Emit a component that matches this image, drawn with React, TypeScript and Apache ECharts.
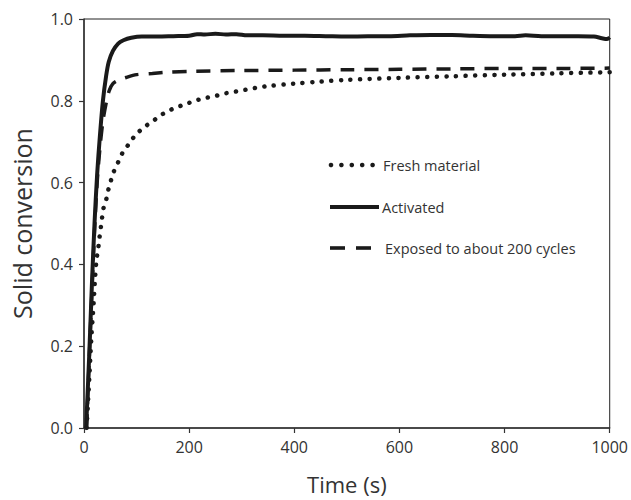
import React, { useEffect, useRef } from "react";
import * as echarts from "echarts";

const xTicks = [0, 200, 400, 600, 800, 1000];
const yTicks = [0, 0.2, 0.4, 0.6, 0.8, 1.0];

const seriesNames = ["Fresh material", "Activated", "Exposed to about 200 cycles"];

const freshTime = [5, 10, 14, 17, 19, 21, 24, 27, 29, 31.5, 34, 37, 42, 46, 51, 57, 65, 73, 84, 94, 105, 117, 131, 143, 157, 172, 187, 200, 216, 231, 248, 264, 282, 299, 316, 333, 350, 400, 450, 500, 600, 700, 800, 900, 1000];
const freshConv = [0, 0.12, 0.22, 0.28, 0.32, 0.366, 0.414, 0.438, 0.461, 0.485, 0.51, 0.537, 0.557, 0.581, 0.604, 0.628, 0.65, 0.672, 0.692, 0.71, 0.725, 0.738, 0.75, 0.762, 0.773, 0.782, 0.789, 0.795, 0.802, 0.807, 0.811, 0.817, 0.821, 0.825, 0.829, 0.833, 0.836, 0.842, 0.847, 0.851, 0.856, 0.86, 0.864, 0.867, 0.87];

const activatedTime = [4, 10, 15, 20, 25, 30, 36, 42, 47, 55, 65, 75, 90, 110, 140, 170, 200, 215, 230, 250, 270, 290, 310, 340, 380, 420, 460, 500, 540, 580, 620, 660, 700, 740, 780, 820, 840, 870, 900, 940, 970, 985, 995, 1000];
const activatedConv = [0, 0.18, 0.35, 0.5, 0.62, 0.71, 0.8, 0.86, 0.895, 0.922, 0.94, 0.948, 0.954, 0.957, 0.957, 0.958, 0.959, 0.963, 0.962, 0.964, 0.962, 0.963, 0.96, 0.96, 0.959, 0.959, 0.958, 0.957, 0.958, 0.958, 0.96, 0.961, 0.961, 0.959, 0.958, 0.958, 0.96, 0.958, 0.958, 0.958, 0.957, 0.953, 0.951, 0.955];

const exposedTime = [5, 10, 15, 20, 25, 30, 36, 43, 48, 55, 65, 80, 100, 130, 160, 200, 300, 400, 500, 600, 700, 800, 900, 1000];
const exposedConv = [0, 0.17, 0.33, 0.48, 0.6, 0.68, 0.75, 0.8, 0.825, 0.842, 0.85, 0.857, 0.864, 0.867, 0.87, 0.872, 0.874, 0.875, 0.876, 0.877, 0.878, 0.879, 0.879, 0.88];

const zip = (t: number[], v: number[]) => t.map((x, i) => [x, v[i]]);

const FONT = "'Open Sans', 'Noto Sans', sans-serif";
const INK = "#1a1a1a";
const TXT = "#333";

const dotted = { width: 4.5, dash: [0.1, 9.5] };
const dashed = { width: 3.5, dash: [14, 10] };

export default function App() {
  const ref = useRef<HTMLDivElement>(null);
  useEffect(() => {
    if (!ref.current) return;
    const chart = echarts.init(ref.current, undefined, { renderer: "svg" });
    const legendText = (text: string, x: number, y: number) => ({
      type: "text",
      x,
      y,
      style: { text, font: `14.5px ${FONT}`, fill: TXT, verticalAlign: "middle", align: "left" },
    });
    const legendDots = [0, 1, 2, 3, 4].map((i) => ({
      type: "circle",
      shape: { cx: 331 + i * 10.4, cy: 165, r: 2.3 },
      style: { fill: INK },
    }));
    chart.setOption({
      animation: false,
      backgroundColor: "#ffffff",
      textStyle: { fontFamily: FONT },
      grid: {
        left: 84,
        right: 19,
        top: 19,
        bottom: 66,
        show: true,
        borderColor: "#222",
        borderWidth: 1,
      },
      graphic: [
        ...legendDots,
        legendText(seriesNames[0], 383, 165),
        {
          type: "line",
          shape: { x1: 330, y1: 207, x2: 379, y2: 207 },
          style: { stroke: INK, lineWidth: 4 },
        },
        legendText(seriesNames[1], 382, 207),
        {
          type: "rect",
          shape: { x: 330, y: 246.2, width: 15, height: 3.6 },
          style: { fill: INK },
        },
        {
          type: "rect",
          shape: { x: 356, y: 246.2, width: 15, height: 3.6 },
          style: { fill: INK },
        },
        legendText(seriesNames[2], 385, 248),
      ],
      xAxis: {
        type: "value",
        min: 0,
        max: 1000,
        interval: 200,
        name: "Time (s)",
        nameLocation: "middle",
        nameGap: 45,
        nameTextStyle: { fontSize: 22, color: TXT, fontFamily: FONT },
        axisLine: { show: true, lineStyle: { color: "#333", width: 1.5 } },
        axisTick: { show: true, inside: false, length: 5, lineStyle: { color: "#333", width: 1.2 } },
        axisLabel: { fontSize: 16, color: TXT, margin: 11, fontFamily: FONT, formatter: (v: number) => String(v) },
        splitLine: { show: false },
      },
      yAxis: {
        type: "value",
        min: 0,
        max: 1,
        interval: 0.2,
        name: "Solid conversion",
        nameLocation: "middle",
        nameGap: 50,
        nameTextStyle: { fontSize: 25, color: TXT, fontFamily: FONT },
        axisLine: { show: true, lineStyle: { color: "#333", width: 1.5 } },
        axisTick: { show: true, inside: false, length: 5, lineStyle: { color: "#333", width: 1.2 } },
        axisLabel: {
          fontSize: 16,
          color: TXT,
          margin: 11,
          fontFamily: FONT,
          formatter: (v: number) => v.toFixed(1),
        },
        splitLine: { show: false },
      },
      series: [
        {
          name: seriesNames[0],
          type: "line",
          data: zip(freshTime, freshConv),
          showSymbol: false,
          symbol: "none",
          smooth: 0.3,
          lineStyle: { color: INK, width: dotted.width, type: dotted.dash, cap: "round" },
        },
        {
          name: seriesNames[1],
          type: "line",
          data: zip(activatedTime, activatedConv),
          showSymbol: false,
          symbol: "none",
          smooth: 0.3,
          lineStyle: { color: INK, width: 4, type: "solid" },
        },
        {
          name: seriesNames[2],
          type: "line",
          data: zip(exposedTime, exposedConv),
          showSymbol: false,
          symbol: "none",
          smooth: 0.3,
          lineStyle: { color: INK, width: dashed.width, type: dashed.dash, cap: "butt" },
        },
      ],
    });
    return () => chart.dispose();
  }, []);
  return <div ref={ref} style={{ width: 631, height: 500, position: "absolute", left: 0, top: 0 }} />;
}
